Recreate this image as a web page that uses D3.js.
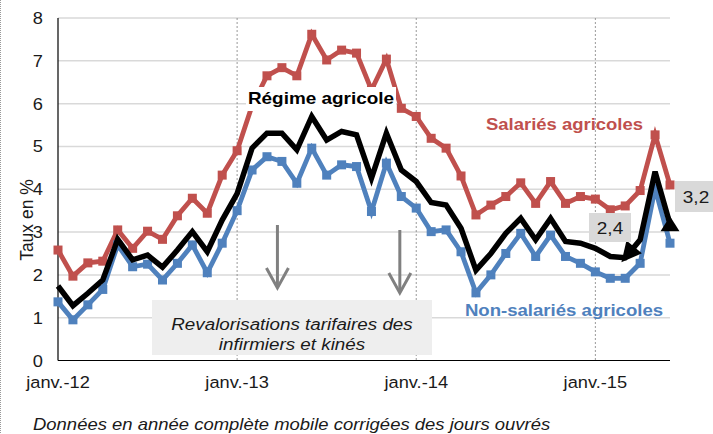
<!DOCTYPE html>
<html>
<head>
<meta charset="utf-8">
<script src="https://cdn.jsdelivr.net/npm/d3@7"></script>
<style>
  body { margin: 0; background: #fff; }
  svg { display: block; font-family: "Liberation Sans", Arial, sans-serif; }
</style>
</head>
<body>
<div id="chart"></div>
<script>
// months jan 2012 -> jun 2015
var months = d3.timeMonth.range(new Date(2012, 0, 1), new Date(2015, 6, 1));
var tickMonths = ["janv.-12", "janv.-13", "janv.-14", "janv.-15"];
var yTicks = [0, 1, 2, 3, 4, 5, 6, 7, 8];

var salaries = [2.58, 1.97, 2.28, 2.32, 3.05, 2.62, 3.02, 2.83, 3.38, 3.79, 3.44, 4.33,
  4.9, 5.95, 6.65, 6.84, 6.65, 7.62, 7.02, 7.25, 7.18, 6.32, 7.04, 5.89,
  5.70, 5.19, 4.96, 4.31, 3.40, 3.63, 3.83, 4.15, 3.67, 4.18, 3.67, 3.83,
  3.77, 3.52, 3.61, 3.97, 5.27, 4.10];
var regime = [1.74, 1.28, 1.57, 1.88, 2.83, 2.35, 2.46, 2.18, 2.58, 3.01, 2.54, 3.28,
  3.9, 4.96, 5.31, 5.31, 4.92, 5.70, 5.15, 5.35, 5.27, 4.26, 5.31, 4.45,
  4.18, 3.69, 3.63, 3.09, 2.11, 2.50, 2.97, 3.32, 2.82, 3.32, 2.78, 2.74,
  2.62, 2.43, 2.40, 2.82, 4.41, 3.18];
var nonSalaries = [1.37, 0.95, 1.30, 1.66, 2.70, 2.19, 2.25, 1.88, 2.27, 2.70, 2.05, 2.74,
  3.5, 4.45, 4.76, 4.65, 4.14, 4.96, 4.33, 4.57, 4.53, 3.48, 4.61, 3.83,
  3.56, 3.01, 3.05, 2.54, 1.58, 2.0, 2.50, 2.97, 2.43, 2.93, 2.43, 2.27,
  2.07, 1.92, 1.92, 2.27, 4.02, 2.74];

var width = 713, height = 434;
var red = "#C0504D", blue = "#4F81BD", ink = "#1a1a1a";
var stretch = 1.12; // the source picture is a bit wide

var svg = d3.select("#chart").append("svg")
  .attr("width", width).attr("height", height);

var x = d3.scaleLinear().domain([0, months.length - 1]).range([58, 670]);
var y = d3.scaleLinear().domain([0, 8]).range([360.5, 18]);

function label(parent, tx, ty, str, size, opts) {
  opts = opts || {};
  var t = parent.append("text")
    .attr("transform", "translate(" + tx + "," + ty + ") scale(" + stretch + ",1)")
    .attr("text-anchor", opts.anchor || "middle")
    .attr("font-size", size)
    .attr("fill", opts.fill || ink)
    .text(str);
  if (opts.bold) t.attr("font-weight", "bold");
  if (opts.italic) t.attr("font-style", "italic");
  return t;
}

// dotted left edge
svg.append("line").attr("x1", 0.5).attr("x2", 0.5).attr("y1", 0).attr("y2", height)
  .attr("stroke", "#999").attr("stroke-dasharray", "1,1");

// horizontal grid
svg.append("g").selectAll("line").data(yTicks.slice(1)).enter().append("line")
  .attr("x1", x(0)).attr("x2", x(months.length - 1))
  .attr("y1", function(d) { return y(d); }).attr("y2", function(d) { return y(d); })
  .attr("stroke", "#D9D9D9").attr("stroke-width", 1.5);

// january dashed lines
var janIdx = months.map(function(d, i) { return d.getMonth() === 0 ? i : -1; })
  .filter(function(i) { return i >= 0; });
svg.append("g").selectAll("line").data(janIdx.slice(1)).enter().append("line")
  .attr("x1", function(d) { return x(d); }).attr("x2", function(d) { return x(d); })
  .attr("y1", y(8)).attr("y2", y(0))
  .attr("stroke", "#7f7f7f").attr("stroke-width", 0.8).attr("stroke-dasharray", "2,2");

// gray note box
svg.append("rect").attr("x", 152).attr("y", 300).attr("width", 280).attr("height", 55)
  .attr("fill", "#EEEEEE");
label(svg, 292, 330, "Revalorisations tarifaires des", 16.8, { italic: true });
label(svg, 292, 350, "infirmiers et kinés", 16.8, { italic: true });

// gray arrows
var arrows = [{ i: 14.7, top: 225, tip: 288 }, { i: 22.9, top: 230, tip: 293 }];
arrows.forEach(function(a) {
  var ax = x(a.i);
  var g = svg.append("g").attr("stroke", "#808080").attr("stroke-width", 3).attr("fill", "none");
  g.append("line").attr("x1", ax).attr("x2", ax).attr("y1", a.top).attr("y2", a.tip - 1);
  g.append("path").attr("d", "M" + (ax - 11) + "," + (a.tip - 20) + "L" + ax + "," + a.tip + "L" + (ax + 11) + "," + (a.tip - 20));
});

// axes
svg.append("line").attr("x1", x(0)).attr("x2", x(0)).attr("y1", y(8)).attr("y2", y(0))
  .attr("stroke", "#000").attr("stroke-width", 1.2);
svg.append("line").attr("x1", x(0)).attr("x2", x(months.length - 1)).attr("y1", y(0)).attr("y2", y(0))
  .attr("stroke", "#000").attr("stroke-width", 1.2);

var yAx = svg.append("g");
yTicks.forEach(function(d) { label(yAx, 43, y(d) + 6, d, 16.3, { anchor: "end" }); });

var xAx = svg.append("g");
janIdx.forEach(function(d, i) { label(xAx, x(d), 388, tickMonths[i], 16.3); });

svg.append("text").attr("transform", "translate(33,220) rotate(-90)")
  .attr("text-anchor", "middle").attr("font-size", 17.5).attr("fill", ink).text("Taux en %");

label(svg, 33, 430, "Données en année complète mobile corrigées des jours ouvrés", 16.5,
  { anchor: "start", italic: true });

// series
var line = d3.line().x(function(d, i) { return x(i); }).y(function(d) { return y(d); });

function drawSeries(vals, color, markers, w) {
  svg.append("path").datum(vals).attr("d", line)
    .attr("fill", "none").attr("stroke", color).attr("stroke-width", w)
    .attr("stroke-linejoin", "miter");
  if (markers) {
    svg.append("g").selectAll("rect").data(vals).enter().append("rect")
      .attr("x", function(d, i) { return x(i) - 4.5; })
      .attr("y", function(d) { return y(d) - 4.5; })
      .attr("width", 9).attr("height", 9).attr("fill", color);
  }
}
drawSeries(salaries, red, true, 4.8);
drawSeries(nonSalaries, blue, true, 4.8);
drawSeries(regime, "#000", false, 5.5);

// arrow heads on the black line
var n = regime.length;
function arrowHead(fromI, toI, len, half) {
  var x0 = x(fromI), y0 = y(regime[fromI]), x1 = x(toI), y1 = y(regime[toI]);
  var dx = x1 - x0, dy = y1 - y0, L = Math.sqrt(dx * dx + dy * dy);
  dx /= L; dy /= L;
  var tx = x1 + dx * 6, ty = y1 + dy * 6;
  var bx = tx - dx * len, by = ty - dy * len;
  svg.append("path").attr("d", "M" + tx + "," + ty + "L" + (bx - dy * half) + "," + (by + dx * half) +
    "L" + (bx + dy * half) + "," + (by - dx * half) + "Z").attr("fill", "#000");
}
arrowHead(n - 3, n - 4, 20, 10);
var lx = x(n - 1), ly = y(regime[n - 1]);
svg.append("path").attr("d", "M" + lx + "," + (ly - 8) + "L" + (lx + 9.5) + "," + (ly + 7) + "L" + (lx - 9.5) + "," + (ly + 7) + "Z")
  .attr("fill", "#000");

// value labels
svg.append("rect").attr("x", 589).attr("y", 213).attr("width", 42).attr("height", 29).attr("fill", "#D9D9D9");
label(svg, 610, 234, "2,4", 17);
svg.append("rect").attr("x", 675).attr("y", 181).attr("width", 38).attr("height", 31).attr("fill", "#D9D9D9");
label(svg, 696, 203, "3,2", 17);

// series labels
svg.append("rect").attr("x", 246).attr("y", 87).attr("width", 150).attr("height", 24).attr("fill", "#fff");
label(svg, 321, 104, "Régime agricole", 16.9, { bold: true, fill: "#000" });
label(svg, 564.5, 130, "Salariés agricoles", 16.5, { bold: true, fill: red });
label(svg, 564, 316, "Non-salariés agricoles", 16.6, { bold: true, fill: blue });
</script>
</body>
</html>
